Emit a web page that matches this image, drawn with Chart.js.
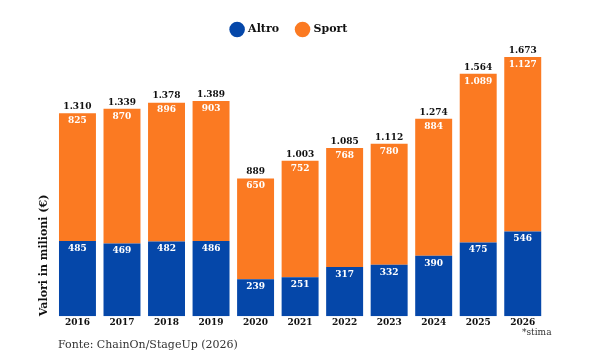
<!DOCTYPE html>
<html>
<head>
<meta charset="utf-8">
<script src="https://cdn.jsdelivr.net/npm/chart.js@4/dist/chart.umd.min.js"></script>
<style>
  html, body { margin: 0; padding: 0; background: #fff; }
  #wrap { width: 600px; height: 362px; position: relative; }
</style>
</head>
<body>
<div id="wrap"><canvas id="grafico"></canvas></div>
<script>
// Dati
const anni = ['2016', '2017', '2018', '2019', '2020', '2021', '2022', '2023', '2024', '2025', '2026'];
const altro = [485, 469, 482, 486, 239, 251, 317, 332, 390, 475, 546];
const sport = [825, 870, 896, 903, 650, 752, 768, 780, 884, 1089, 1127];

const BLU = '#0547a9';
const ARANCIO = '#fb7a22';
const FONT = "'DejaVu Serif', serif";

// formato italiano con punto per le migliaia
function fmt(v) {
    return v.toLocaleString('it-IT');
}

// Etichette dentro le barre e totali sopra
const etichette = {
    id: 'etichette',
    afterDatasetsDraw(chart) {
        const ctx = chart.ctx;
        ctx.save();
        ctx.textAlign = 'center';
        ctx.textBaseline = 'top';
        ctx.font = 'bold 9px ' + FONT;
        chart.data.datasets.forEach((ds, i) => {
            const meta = chart.getDatasetMeta(i);
            meta.data.forEach((bar, j) => {
                ctx.fillStyle = '#ffffff';
                ctx.fillText(fmt(ds.data[j]), bar.x, bar.y + 3);
            });
        });
        // totali
        const metaTop = chart.getDatasetMeta(1);
        ctx.fillStyle = '#111111';
        ctx.textBaseline = 'bottom';
        metaTop.data.forEach((bar, j) => {
            ctx.fillText(fmt(altro[j] + sport[j]), bar.x, bar.y - 2);
        });
        // fonte e nota
        ctx.textAlign = 'left';
        ctx.textBaseline = 'middle';
        ctx.font = '11px ' + FONT;
        ctx.fillStyle = '#333333';
        ctx.fillText('Fonte: ChainOn/StageUp (2026)', 58, 345);
        ctx.font = '9px ' + FONT;
        ctx.fillText('*stima', 522, 333);
        ctx.restore();
    }
};

new Chart(document.getElementById('grafico').getContext('2d'), {
    type: 'bar',
    data: {
        labels: anni,
        datasets: [
            { label: 'Altro', data: altro, backgroundColor: BLU, categoryPercentage: 0.83, barPercentage: 1 },
            { label: 'Sport', data: sport, backgroundColor: ARANCIO, categoryPercentage: 0.83, barPercentage: 1 }
        ]
    },
    options: {
        responsive: true,
        maintainAspectRatio: false,
        animation: false,
        layout: { padding: { left: 34, right: 55, top: 6, bottom: 33 } },
        plugins: {
            legend: {
                position: 'top',
                labels: {
                    usePointStyle: true,
                    pointStyle: 'circle',
                    boxWidth: 11,
                    boxHeight: 11,
                    padding: 18,
                    color: '#111111',
                    font: { family: FONT, size: 11, weight: 'bold' }
                }
            },
            tooltip: { enabled: false }
        },
        scales: {
            x: {
                stacked: true,
                grid: { display: false, drawTicks: false },
                border: { display: false },
                ticks: { color: '#111111', padding: 1, font: { family: FONT, size: 9, weight: 'bold' } }
            },
            y: {
                stacked: true,
                min: 0,
                max: 1750,
                grid: { display: false, drawTicks: false },
                border: { display: false },
                ticks: { display: false },
                title: {
                    display: true,
                    text: 'Valori in milioni (€)',
                    align: 'start',
                    color: '#111111',
                    font: { family: FONT, size: 11, weight: 'bold' }
                }
            }
        }
    },
    plugins: [etichette]
});
</script>
</body>
</html>
